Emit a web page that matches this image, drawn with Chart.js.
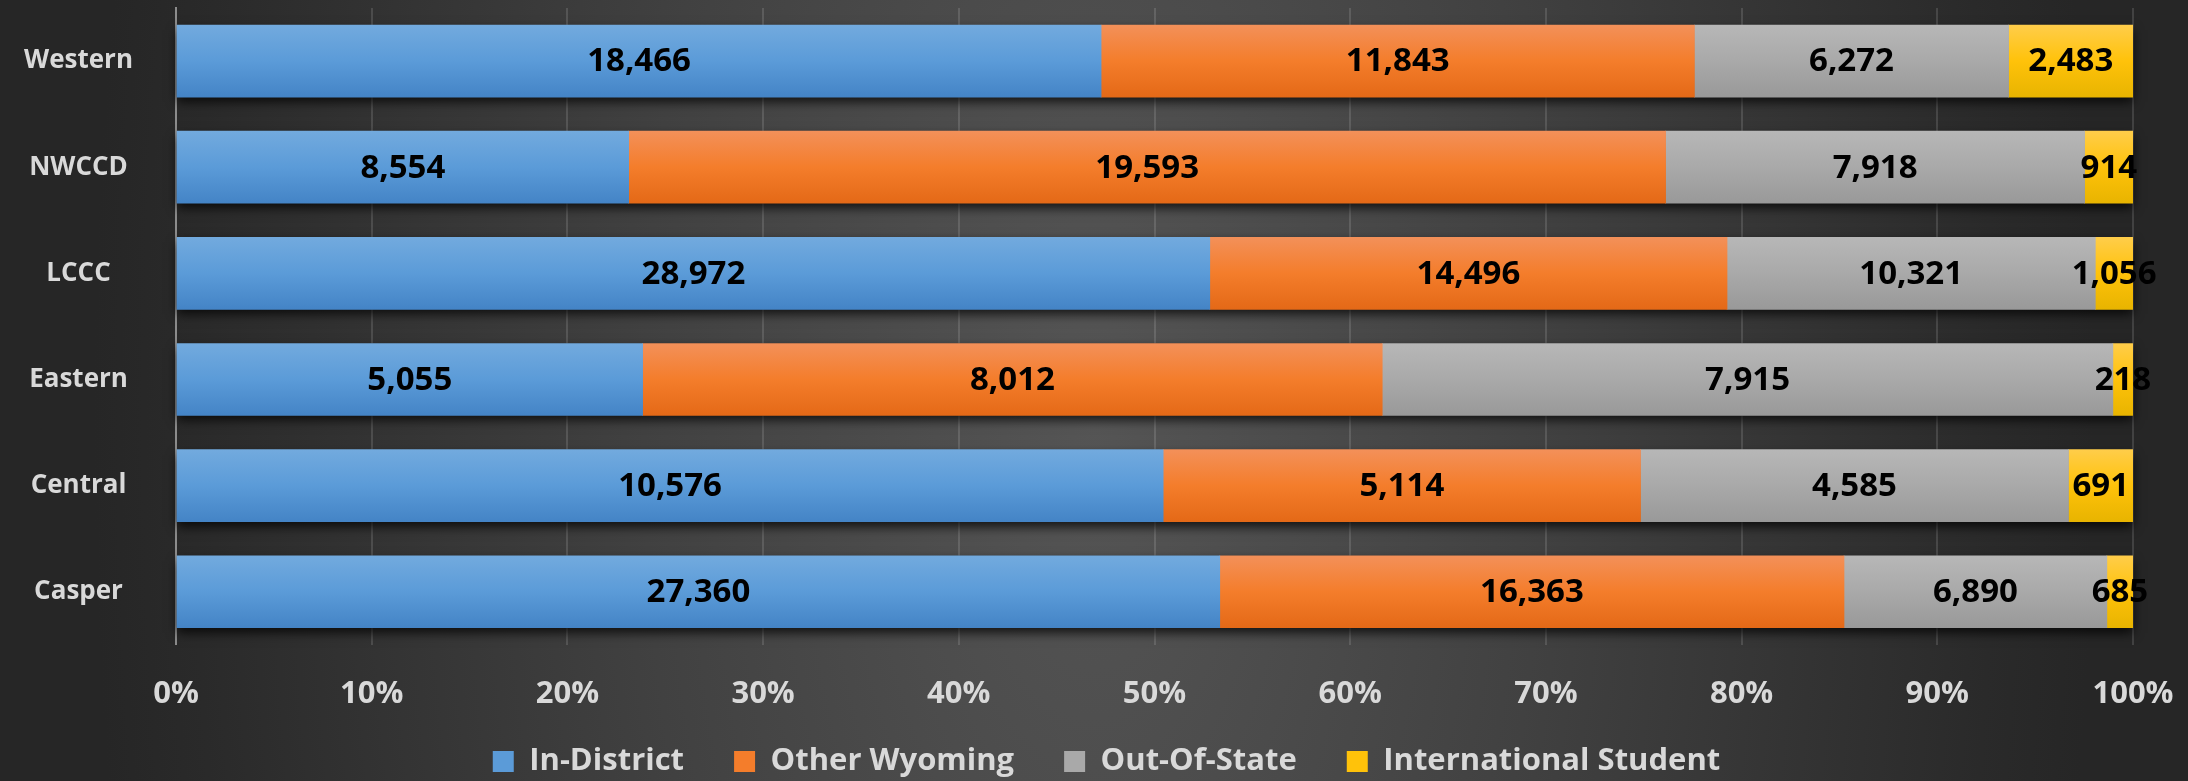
<!DOCTYPE html>
<html><head><meta charset="utf-8">
<style>html,body{margin:0;padding:0;background:#2a2a2a;overflow:hidden}#wrap{width:2188px;height:781px;position:relative}</style>
<script src="https://cdn.jsdelivr.net/npm/chart.js@4/dist/chart.umd.min.js"></script>
</head><body><div id="wrap"><canvas id="c"></canvas></div>
<script>
const categories = ['Western', 'NWCCD', 'LCCC', 'Eastern', 'Central', 'Casper'];
const seriesNames = ['In-District', 'Other Wyoming', 'Out-Of-State', 'International Student'];
const inDistrict   = [18466, 8554, 28972, 5055, 10576, 27360];
const otherWyoming = [11843, 19593, 14496, 8012, 5114, 16363];
const outOfState   = [6272, 7918, 10321, 7915, 4585, 6890];
const international = [2483, 914, 1056, 218, 691, 685];
const xTickLabels = ['0%', '10%', '20%', '30%', '40%', '50%', '60%', '70%', '80%', '90%', '100%'];

const seriesValues = [inDistrict, otherWyoming, outOfState, international];
const seriesGradients = [
  ['#72aade', '#5b9bd8', '#4484c6'],
  ['#f39059', '#f47d2b', '#e46917'],
  ['#b7b7b7', '#a9a9a9', '#999999'],
  ['#ffcd4a', '#ffc20a', '#e8b400']
];
const totals = categories.map((_, i) => seriesValues.reduce((s, arr) => s + arr[i], 0));

const BAR = 72;
const FONT = "'Open Sans', 'Noto Sans', sans-serif";
const TEXT = '#d9d9d9';

function gradFill(stops) {
  return (ctx) => {
    const chart = ctx.chart;
    const ys = chart.scales && chart.scales.y;
    if (!ys || !chart.chartArea || ctx.dataIndex === undefined) return stops[1];
    const yc = ys.getPixelForValue(ctx.dataIndex);
    const g = chart.ctx.createLinearGradient(0, yc - BAR / 2, 0, yc + BAR / 2);
    g.addColorStop(0, stops[0]);
    g.addColorStop(0.5, stops[1]);
    g.addColorStop(1, stops[2]);
    return g;
  };
}

const datasets = seriesNames.map((name, k) => ({
  label: name,
  data: seriesValues[k].map((v, i) => v / totals[i] * 100),
  raw: seriesValues[k],
  backgroundColor: gradFill(seriesGradients[k]),
  legendStops: seriesGradients[k],
  borderWidth: 0,
  barThickness: BAR
}));

const bgPlugin = {
  id: 'bg',
  beforeDraw(chart) {
    const c = chart.ctx;
    c.save();
    c.translate(1094, 420);
    c.scale(1, 2.2);
    const g = c.createRadialGradient(0, 0, 0, 0, 0, 1000);
    g.addColorStop(0, '#555555');
    g.addColorStop(0.45, '#414141');
    g.addColorStop(0.9, '#2a2a2a');
    g.addColorStop(1, '#262626');
    c.fillStyle = g;
    c.fillRect(-1200, -400, 2400, 800);
    c.restore();
  }
};

const legendShift = {
  id: 'legendShift',
  afterLayout(chart) {
    const lg = chart.legend;
    if (!lg) return;
    lg.top -= 17; lg.bottom -= 17;
    lg.left += 40; lg.right += 40;
  }
};

const shadowLabelPlugin = {
  id: 'shadowLabels',
  beforeDatasetsDraw(chart) {
    const c = chart.ctx;
    const first = chart.getDatasetMeta(0).data;
    const last = chart.getDatasetMeta(chart.data.datasets.length - 1).data;
    c.save();
    c.shadowColor = 'rgba(0,0,0,0.75)';
    c.shadowBlur = 10;
    c.shadowOffsetX = 0;
    c.shadowOffsetY = 5;
    c.fillStyle = '#222';
    first.forEach((bar, i) => {
      const x0 = bar.base, x1 = last[i].x;
      c.fillRect(x0, bar.y - BAR / 2, x1 - x0, BAR);
    });
    c.restore();
  },
  afterDatasetsDraw(chart) {
    const c = chart.ctx;
    c.save();
    c.font = "bold 33px " + FONT;
    c.fillStyle = '#000000';
    c.textAlign = 'center';
    c.textBaseline = 'middle';
    chart.data.datasets.forEach((ds, k) => {
      chart.getDatasetMeta(k).data.forEach((bar, i) => {
        const xc = (bar.x + bar.base) / 2;
        c.fillText(ds.raw[i].toLocaleString('en-US'), xc, bar.y + 1);
      });
    });
    c.restore();
  }
};

new Chart(document.getElementById('c'), {
  type: 'bar',
  data: { labels: categories, datasets },
  options: {
    indexAxis: 'y',
    responsive: true,
    maintainAspectRatio: false,
    animation: false,
    layout: { padding: { top: 8, right: 55, left: 0, bottom: -23 } },
    scales: {
      x: {
        stacked: true,
        min: 0, max: 100,
        ticks: {
          stepSize: 10,
          color: TEXT,
          font: { family: FONT, size: 31, weight: 'bold' },
          padding: 0,
          callback: (v) => xTickLabels[Math.round(v / 10)]
        },
        grid: { color: 'rgba(255,255,255,0.13)', lineWidth: 2, drawTicks: true, tickLength: 31, tickColor: 'rgba(0,0,0,0)' },
        border: { display: false }
      },
      y: {
        stacked: true,
        ticks: {
          color: TEXT,
          font: { family: FONT, size: 26, weight: 'bold', lineHeight: 0.5 },
          crossAlign: 'center',
          padding: 0
        },
        grid: { display: false, drawTicks: true, tickLength: 43 },
        border: { display: true, color: '#8c8c8c', width: 2 },
        afterFit: (s) => { s.width = 176; }
      }
    },
    plugins: {
      legend: {
        position: 'bottom',
        labels: {
          color: TEXT,
          font: { family: FONT, size: 31, weight: 'bold' },
          boxWidth: 21,
          boxHeight: 21,
          padding: 50,
          generateLabels: (chart) => chart.data.datasets.map((ds, k) => ({
            text: ds.label,
            fillStyle: ds.legendStops[1],
            strokeStyle: ds.legendStops[1],
            lineWidth: 0,
            fontColor: TEXT,
            hidden: false,
            datasetIndex: k
          }))
        }
      },
      tooltip: { enabled: false }
    }
  },
  plugins: [bgPlugin, legendShift, shadowLabelPlugin]
});
</script>
</body></html>
